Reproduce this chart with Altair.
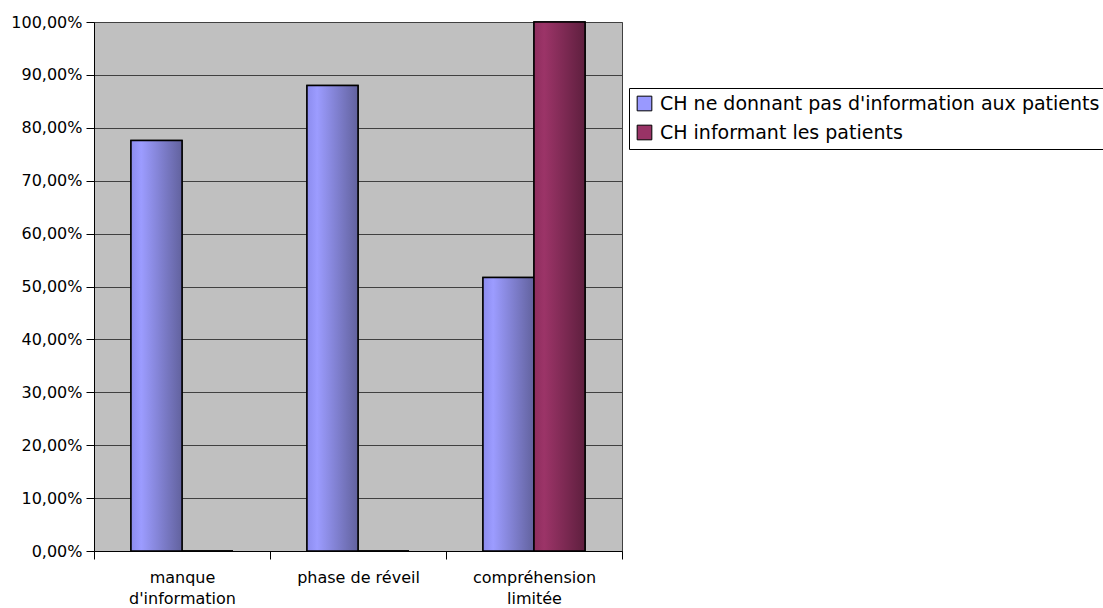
import altair as alt
import pandas as pd

# Categories, series and values (percent)
categories = ["manque d'information", "phase de réveil", "compréhension limitée"]
series = ["CH ne donnant pas d'information aux patients", "CH informant les patients"]
no_info_values = [77.6, 88.0, 51.7]
info_values = [0.0, 0.0, 100.0]
y_ticks = [0, 10, 20, 30, 40, 50, 60, 70, 80, 90, 100]

flat_colors = ["#9999FF", "#993366"]

rows = []
for cat, v in zip(categories, no_info_values):
    rows.append({"category": cat, "series": series[0], "value": v})
for cat, v in zip(categories, info_values):
    rows.append({"category": cat, "series": series[1], "value": v})
df = pd.DataFrame(rows)

FONT = "DejaVu Sans"

x_enc = alt.X(
    "category:N",
    sort=categories,
    scale=alt.Scale(domain=categories, paddingInner=0, paddingOuter=0),
    axis=alt.Axis(
        title=None,
        labelAngle=0,
        tickBand="extent",
        tickSize=8,
        tickColor="#000000",
        domainColor="#000000",
        labelFont=FONT,
        labelFontSize=16,
        labelColor="#000000",
        labelPadding=10,
        labelLineHeight=21,
        labelBaseline="top",
        labelExpr=(
            "!isString(datum.value) ? '' : "
            "(datum.value == 'phase de réveil' ? datum.value : split(datum.value, ' '))"
        ),
    ),
)
xo_enc = alt.XOffset(
    "series:N",
    sort=series,
    scale=alt.Scale(domain=series, paddingInner=0, paddingOuter=0.725),
)
y_enc = alt.Y(
    "value:Q",
    scale=alt.Scale(domain=[0, 100], nice=False),
    axis=alt.Axis(
        title=None,
        values=y_ticks,
        tickSize=8,
        tickColor="#000000",
        domainColor="#000000",
        gridColor="#404040",
        gridOpacity=1,
        labelFont=FONT,
        labelFontSize=16,
        labelColor="#000000",
        labelPadding=4,
        labelExpr="replace(format(datum.value, '.2f'), '.', ',') + '%'",
    ),
)

# Flat bars: provide the legend
base = alt.Chart(df).mark_bar(stroke="#000000", strokeWidth=1.5).encode(
    x=x_enc,
    xOffset=xo_enc,
    y=y_enc,
    color=alt.Color(
        "series:N",
        sort=series,
        scale=alt.Scale(domain=series, range=flat_colors),
        legend=alt.Legend(
            title=None,
            orient="none",
            legendX=535,
            legendY=66,
            direction="vertical",
            symbolType="square",
            symbolSize=215,
            symbolStrokeColor="#000000",
            symbolStrokeWidth=1,
            symbolOpacity=1,
            labelFont=FONT,
            labelFontSize=19,
            labelColor="#000000",
            labelOffset=6,
            rowPadding=9,
            padding=6,
            strokeColor="#000000",
            fillColor="#FFFFFF",
            labelLimit=600,
        ),
    ),
)


def shaded(stops):
    return alt.Gradient(
        gradient="linear",
        stops=[alt.GradientStop(color=c, offset=o) for o, c in stops],
        x1=0, x2=1, y1=0, y2=0,
    )


blue_grad = shaded([(0, "#8c8cee"), (0.2, "#9c9cff"), (1, "#62629e")])
purple_grad = shaded([(0, "#8e2e5e"), (0.2, "#9c3468"), (1, "#5e1f3e")])

layers = [base]
for name, grad in zip(series, [blue_grad, purple_grad]):
    layers.append(
        alt.Chart(df)
        .transform_filter(alt.datum.series == name)
        .mark_bar(color=grad, stroke="#000000", strokeWidth=1.5)
        .encode(x=x_enc, xOffset=xo_enc, y=y_enc)
    )

chart = (
    alt.layer(*layers)
    .properties(
        width=528,
        height=529,
        autosize=alt.AutoSizeParams(type="none"),
        padding={"left": 94, "top": 22, "right": 481, "bottom": 57},
        background="#FFFFFF",
    )
    .configure_view(fill="#C0C0C0", stroke="#404040", strokeWidth=1)
)

chart.save("out.html", embed_options={"renderer": "svg", "actions": False})
